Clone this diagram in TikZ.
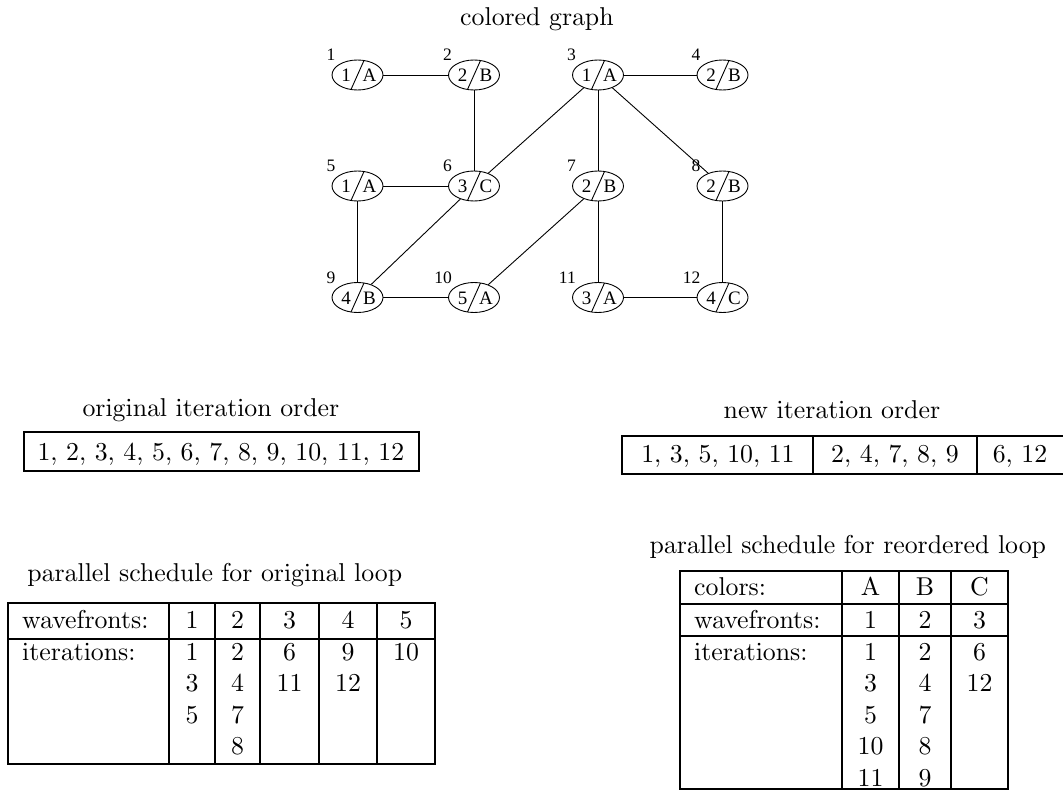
\documentclass[tikz,border=0pt]{standalone}
\usepackage{fontspec}
\usetikzlibrary{shapes.geometric,calc}
\newfontfamily\timesf{Liberation Serif}
\font\cmbig=cmr10 at 25.8pt
\newcommand\gn[6]{%
  \node[gnode] (#1) at (#2,#3) {};
  \draw[edgeline] ($(#1)+(-6.5,14.5)$) -- ($(#1)+(6.5,-14.5)$);
  \node[gtxt] (#1a) at ($(#1)+(-11.5,0.5)$) {#4};
  \node[gtxt] (#1b) at ($(#1)+(12,0.5)$) {#5};
  \node[glbl] (#1l) at ($(#1)+(-22,-14)$) {#6};
}
\begin{document}
\begin{tikzpicture}[x=1pt,y=-1pt,
  gnode/.style={ellipse, draw, line width=0.9pt, minimum width=51pt, minimum height=30pt, inner sep=0pt},
  gtxt/.style={font=\timesf\fontsize{19}{19}\selectfont, inner sep=0pt},
  glbl/.style={font=\timesf\fontsize{17.5}{17.5}\selectfont, anchor=south east, inner sep=0pt},
  edgeline/.style={line width=0.9pt},
  ttl/.style={font=\cmbig, anchor=base, inner sep=0pt},
  cell/.style={font=\cmbig, anchor=base, inner sep=0pt},
  cellL/.style={font=\cmbig, anchor=base west, inner sep=0pt},
  tbl/.style={line width=2pt}]
\useasboundingbox (0,0) rectangle (1063,798);
\fill[white] (0,0) rectangle (1063,798);

% ---------- graph ----------
\node[ttl] (tgraph) at (537,25) {colored graph};
\gn{n1}{357.5}{75}{1}{A}{1}
\gn{n2}{474}{75}{2}{B}{2}
\gn{n3}{598}{75}{1}{A}{3}
\gn{n4}{722.5}{75}{2}{B}{4}
\gn{n5}{357.5}{186}{1}{A}{5}
\gn{n6}{474}{186}{3}{C}{6}
\gn{n7}{598}{186}{2}{B}{7}
\gn{n8}{722.5}{186}{2}{B}{8}
\gn{n9}{357.5}{297.5}{4}{B}{9}
\gn{n10}{474}{297.5}{5}{A}{10}
\gn{n11}{598}{297.5}{3}{A}{11}
\gn{n12}{722.5}{297.5}{4}{C}{12}
\draw[edgeline] (n1) -- (n2);
\draw[edgeline] (n2) -- (n6);
\draw[edgeline] (n3) -- (n4);
\draw[edgeline] (n3) -- (n6);
\draw[edgeline] (n3) -- (n7);
\draw[edgeline] (n3) -- (n8);
\draw[edgeline] (n5) -- (n6);
\draw[edgeline] (n5) -- (n9);
\draw[edgeline] (n6) -- (n9);
\draw[edgeline] (n7) -- (n10);
\draw[edgeline] (n7) -- (n11);
\draw[edgeline] (n8) -- (n12);
\draw[edgeline] (n9) -- (n10);
\draw[edgeline] (n11) -- (n12);

% ---------- original order ----------
\node[ttl] (torig) at (211,416) {original iteration order};
\draw[tbl] (24,432) rectangle (419,471);
\node[cell] (oseq) at (221,460) {1, 2, 3, 4, 5, 6, 7, 8, 9, 10, 11, 12};

% ---------- new order ----------
\node[ttl] (tnew) at (832,418) {new iteration order};
\draw[tbl] (622,436) rectangle (1070,474);
\draw[tbl] (813,436) -- (813,474);
\draw[tbl] (977,436) -- (977,474);
\node[cell] (nseqa) at (718,462) {1, 3, 5, 10, 11};
\node[cell] (nseqb) at (895,462) {2, 4, 7, 8, 9};
\node[cell] (nseqc) at (1020,462) {6, 12};

% ---------- left schedule ----------
\node[ttl] (tleft) at (215,581) {parallel schedule for original loop};
\draw[tbl] (8,603) rectangle (435,764);
\draw[tbl] (8,639) -- (435,639);
\foreach \x in {169,215,260,319,377} \draw[tbl] (\x,603) -- (\x,764);
\node[cellL] (lw) at (22,628) {wavefronts:};
\node[cellL] (li) at (22,660) {iterations:};
\foreach \x/\t [count=\i] in {192/1,237.5/2,289.5/3,348/4,406/5}
  \node[cell] (lh\i) at (\x,628) {\t};
\node[cell] (l11) at (192,660) {1};
\node[cell] (l12) at (192,691) {3};
\node[cell] (l13) at (192,723) {5};
\node[cell] (l21) at (237.5,660) {2};
\node[cell] (l22) at (237.5,691) {4};
\node[cell] (l23) at (237.5,723) {7};
\node[cell] (l24) at (237.5,754) {8};
\node[cell] (l31) at (289.5,660) {6};
\node[cell] (l32) at (289.5,691) {11};
\node[cell] (l41) at (348,660) {9};
\node[cell] (l42) at (348,691) {12};
\node[cell] (l51) at (406,660) {10};

% ---------- right schedule ----------
\node[ttl] (tright) at (848,553) {parallel schedule for reordered loop};
\draw[tbl] (680,571) rectangle (1008,789);
\draw[tbl] (680,604) -- (1008,604);
\draw[tbl] (680,636) -- (1008,636);
\foreach \x in {842,899,951} \draw[tbl] (\x,571) -- (\x,789);
\node[cellL] (rc) at (694,595) {colors:};
\node[cellL] (rw) at (694,628) {wavefronts:};
\node[cellL] (ri) at (694,660) {iterations:};
\node[cell] (rcA) at (870.5,595) {A};
\node[cell] (rcB) at (925,595) {B};
\node[cell] (rcC) at (979.5,595) {C};
\node[cell] (rw1) at (870.5,628) {1};
\node[cell] (rw2) at (925,628) {2};
\node[cell] (rw3) at (979.5,628) {3};
\foreach \t [count=\i] in {1,3,5,10,11}
  \node[cell] (ra\i) at (870.5,{660+31.5*(\i-1)}) {\t};
\foreach \t [count=\i] in {2,4,7,8,9}
  \node[cell] (rb\i) at (925,{660+31.5*(\i-1)}) {\t};
\node[cell] (rc1) at (979.5,660) {6};
\node[cell] (rc2) at (979.5,691.5) {12};
\end{tikzpicture}
\end{document}
